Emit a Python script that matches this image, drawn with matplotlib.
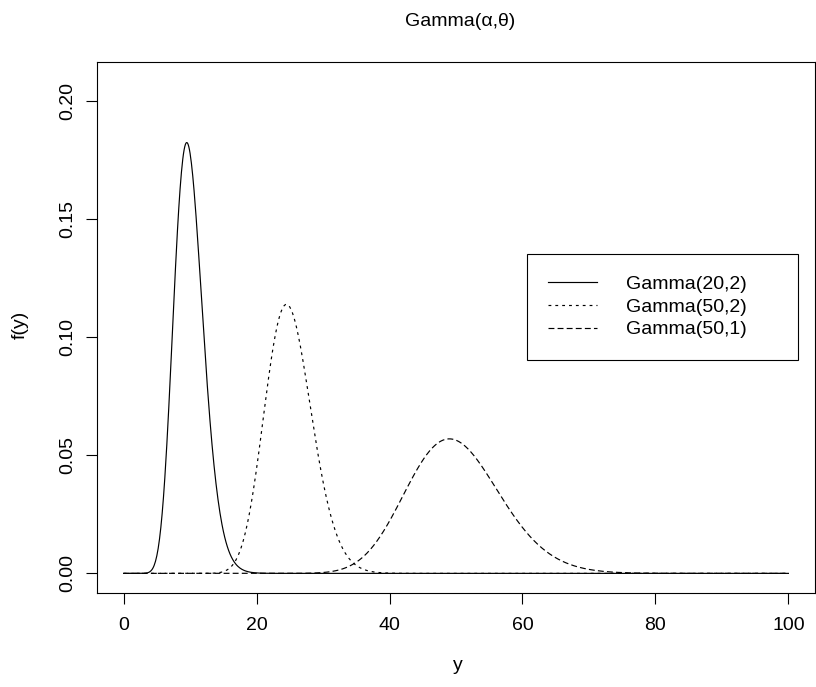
import numpy as np
import matplotlib.pyplot as plt
from math import lgamma

# gamma shape / rate pairs shown in the legend
shapes = [20, 50, 50]
rates = [2, 2, 1]
labels = ['Gamma(20,2)', 'Gamma(50,2)', 'Gamma(50,1)']
styles = ['-', (0, (2.4, 3.4)), (0, (5.0, 2.7))]

xticks = [0, 20, 40, 60, 80, 100]
yticks = [0.00, 0.05, 0.10, 0.15, 0.20]

plt.rcParams['font.family'] = ['Liberation Sans', 'DejaVu Sans']
plt.rcParams['font.size'] = 14


def gamma_pdf(y, a, b):
    out = np.zeros_like(y)
    pos = y > 0
    out[pos] = np.exp(a * np.log(b) - lgamma(a) + (a - 1) * np.log(y[pos]) - b * y[pos])
    return out


fig = plt.figure(figsize=(8.16, 6.87), dpi=100)
ax = fig.add_axes([97 / 816, 1 - 593 / 687, 718 / 816, 531 / 687])

y = np.linspace(0, 100, 1001)
for a, b, lab, ls in zip(shapes, rates, labels, styles):
    ax.plot(y, gamma_pdf(y, a, b), color='black', lw=0.85, linestyle=ls, label=lab)

ax.set_xlim(-4, 104)
ax.set_ylim(-0.0083, 0.2163)
ax.set_xticks(xticks)
ax.set_xticklabels([str(t) for t in xticks])
ax.set_yticks(yticks)
ax.set_yticklabels(['%.2f' % t for t in yticks], rotation=90, va='center')
ax.tick_params(direction='out', length=8, width=0.8, pad=9)
ax.tick_params(axis='y', pad=7)
for s in ax.spines.values():
    s.set_linewidth(0.8)

fig.text(460 / 816, 1 - 22 / 687, 'Gamma(\u03b1,\u03b8)', ha='center', va='center')
fig.text(458 / 816, 1 - 665 / 687, 'y', ha='center', va='center')
fig.text(20 / 816, 1 - 325 / 687, 'f(y)', ha='center', va='center', rotation=90)

x0 = (527 - 97) / 718
x1 = (798 - 97) / 718
y0 = (593 - 354) / 531
y1 = (593 - 254) / 531
leg = ax.legend(loc='upper left', bbox_to_anchor=(x0, y0, x1 - x0, y1 - y0), mode='expand',
                borderaxespad=0, fancybox=False, edgecolor='black', framealpha=1,
                handlelength=2.5, handletextpad=1.5, borderpad=1.1, labelspacing=0.26)
leg.get_frame().set_linewidth(0.8)

fig.savefig('out.png', dpi=100)
